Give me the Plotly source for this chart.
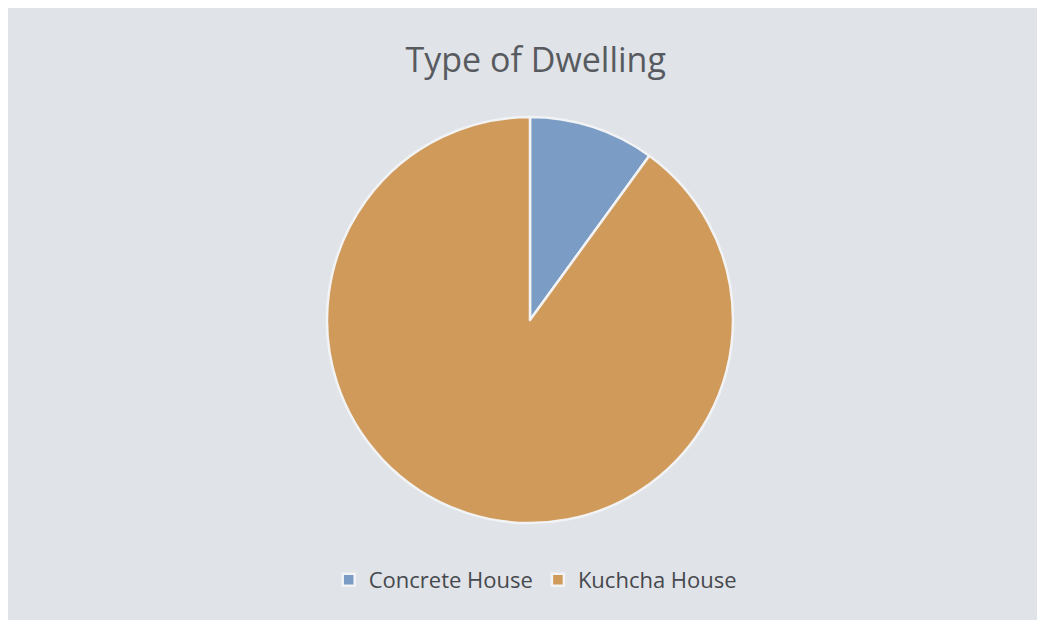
import plotly.graph_objects as go

labels = ["Concrete House", "Kuchcha House"]
values = [10, 90]
colors = ["#7b9cc5", "#d09a5b"]

fig = go.Figure(go.Pie(
    labels=labels,
    values=values,
    sort=False,
    direction="clockwise",
    rotation=0,
    marker=dict(colors=colors, line=dict(color="#f2f3f5", width=2.5)),
    textinfo="none",
    hoverinfo="label+percent",
))

fig.update_layout(
    width=1045, height=620,
    margin=dict(l=0, r=1, t=109, b=105),
    paper_bgcolor="#e0e3e8",
    plot_bgcolor="#e0e3e8",
    title=dict(text="Type of Dwelling", x=0.505, xanchor="center", y=0.916, yanchor="middle",
               font=dict(family="Open Sans, Liberation Sans, sans-serif", size=34, color="#575a5e")),
    showlegend=True,
    legend=dict(orientation="h", x=0.505, xanchor="center", y=-0.14, yanchor="middle",
                font=dict(family="Open Sans, Liberation Sans, sans-serif", size=22, color="#46494d"),
                itemwidth=30, traceorder="normal"),
)

fig.write_html("out.html")
